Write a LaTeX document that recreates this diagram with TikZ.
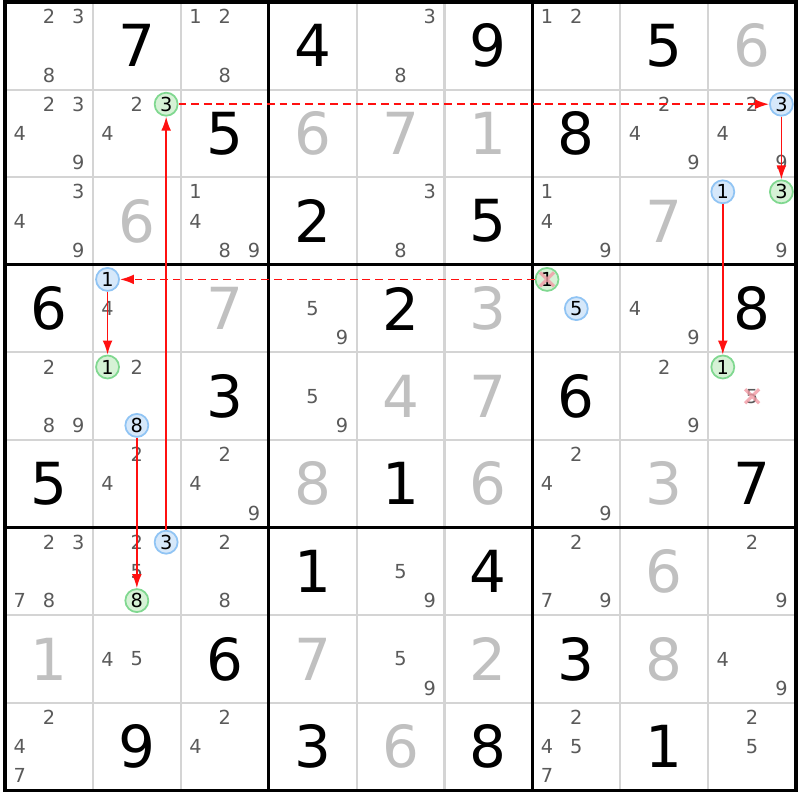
\documentclass[tikz,border=0pt]{standalone}
\usepackage{fontspec}
\setmainfont{DejaVu Sans}
\usetikzlibrary{arrows.meta}
\definecolor{solved}{HTML}{C0C0C0}
\definecolor{candgray}{HTML}{5A5A5A}
\definecolor{gridgray}{HTML}{D4D4D4}
\definecolor{grnfill}{HTML}{D6F2D6}
\definecolor{grnline}{HTML}{80D890}
\definecolor{blufill}{HTML}{D6E8FA}
\definecolor{bluline}{HTML}{90C4F4}
\definecolor{xred}{HTML}{F29AA4}
\definecolor{linkred}{HTML}{FF1010}

\begin{document}
\begin{tikzpicture}[x=0.879cm,y=-0.876cm,
   given/.style={inner sep=0pt,font=\fontsize{16.5}{16}\selectfont},
   solvd/.style={given,text=solved},
   cand/.style={inner sep=0pt,text=candgray,font=\fontsize{5.5}{6}\selectfont},
   grn/.style={cand,circle,minimum size=0.23cm,text=black,draw=grnline,fill=grnfill,line width=0.5pt},
   blu/.style={grn,draw=bluline,fill=blufill},
   strong/.style={linkred,line width=0.5pt,-{Latex[length=4pt,width=2.8pt]}},
   weak/.style={strong,dash pattern=on 2.2pt off 1.4pt},
   elim/.style={xred,line width=0.9pt,opacity=0.8}]
   \fill[white] (-0.057,-0.023) rectangle (9.045,9.110);
   \useasboundingbox (-0.057,-0.023) rectangle (9.045,9.110);

   \foreach \i in {1,2,4,5,7,8} {
      \draw[gridgray,line width=0.6pt] (\i,0) -- (\i,9);
      \draw[gridgray,line width=0.6pt] (0,\i) -- (9,\i);
   }
   \foreach \i in {3,6} {
      \draw[line width=0.9pt] (\i,0) -- (\i,9);
      \draw[line width=0.9pt] (0,\i) -- (9,\i);
   }
   \draw[line width=0.9pt] (0,0) rectangle (9,9);

   \foreach \row/\col/\v in {1/2/7,1/4/4,1/6/9,1/8/5,2/3/5,2/7/8,3/4/2,3/6/5,4/1/6,4/5/2,4/9/8,
         5/3/3,5/7/6,6/1/5,6/5/1,6/9/7,7/4/1,7/6/4,8/3/6,8/7/3,9/2/9,9/4/3,9/6/8,9/8/1}
      \node[given] (g\row\col) at (\col-0.5,\row-0.5) {\v};
   \foreach \row/\col/\v in {1/9/6,2/4/6,2/5/7,2/6/1,3/2/6,3/8/7,4/3/7,4/6/3,5/5/4,5/6/7,
         6/4/8,6/6/6,6/8/3,7/8/6,8/1/1,8/4/7,8/6/2,8/8/8,9/5/6}
      \node[solvd] (g\row\col) at (\col-0.5,\row-0.5) {\v};

   \foreach \row/\col/\ds in {1/1/{2,3,8},1/3/{1,2,8},1/5/{3,8},1/7/{1,2},
         2/1/{2,3,4,9},2/2/{2,4},2/8/{2,4,9},2/9/{2,4,9},
         3/1/{3,4,9},3/3/{1,4,8,9},3/5/{3,8},3/7/{1,4,9},3/9/{9},
         4/2/{4},4/4/{5,9},4/8/{4,9},
         5/1/{2,8,9},5/2/{2},5/4/{5,9},5/8/{2,9},5/9/{5},
         6/2/{2,4},6/3/{2,4,9},6/7/{2,4,9},
         7/1/{2,3,7,8},7/2/{2,5},7/3/{2,8},7/5/{5,9},7/7/{2,7,9},7/9/{2,9},
         8/2/{4,5},8/5/{5,9},8/9/{4,9},
         9/1/{2,4,7},9/3/{2,4},9/7/{2,4,5,7},9/9/{2,5}}
      \foreach \d in \ds
         \node[cand] (r\row c\col n\d) at ({\col-1+(mod(\d-1,3)+0.5)/3},{\row-1+(int((\d-1)/3)+0.5)/3}) {\d};

   \foreach \row/\col/\d in {2/2/3,3/9/3,4/7/1,5/2/1,5/9/1,7/2/8}
      \node[grn] (r\row c\col n\d) at ({\col-1+(mod(\d-1,3)+0.5)/3},{\row-1+(int((\d-1)/3)+0.5)/3}) {\d};
   \foreach \row/\col/\d in {2/9/3,3/9/1,4/2/1,4/7/5,5/2/8,7/2/3}
      \node[blu] (r\row c\col n\d) at ({\col-1+(mod(\d-1,3)+0.5)/3},{\row-1+(int((\d-1)/3)+0.5)/3}) {\d};

   \draw[elim] (r4c7n1) +(-.08,-.08) -- +(.08,.08) +(-.08,.08) -- +(.08,-.08);
   \draw[elim] (r5c9n5) +(-.08,-.08) -- +(.08,.08) +(-.08,.08) -- +(.08,-.08);

   \draw[weak] (r2c2n3) -- (r2c9n3);
   \draw[weak] (r4c7n1) -- (r4c2n1);
   \draw[strong] (r2c9n3) -- (r3c9n3);
   \draw[strong] (r3c9n1) -- (r5c9n1);
   \draw[strong] (r4c2n1) -- (r5c2n1);
   \draw[strong] (r5c2n8) -- (r7c2n8);
   \draw[strong] (r7c2n3) -- (r2c2n3);
\end{tikzpicture}
\end{document}
